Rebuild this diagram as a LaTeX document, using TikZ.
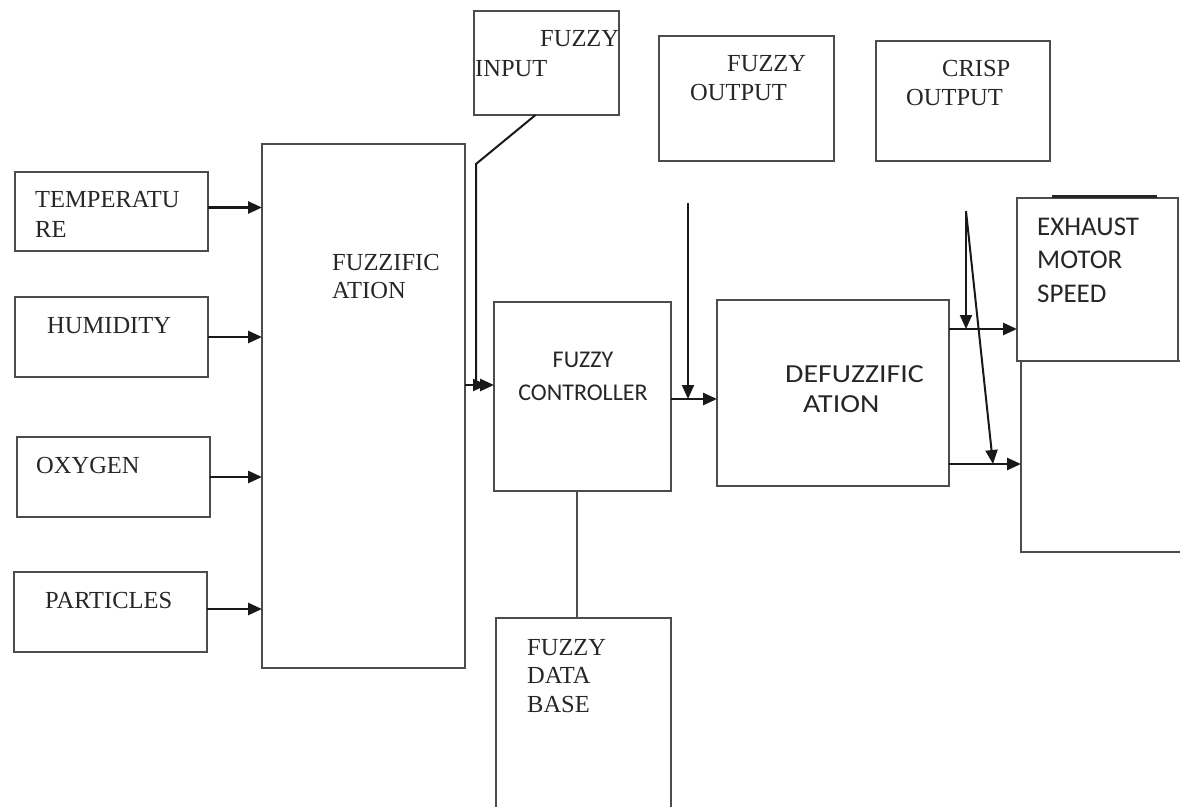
\documentclass[tikz,border=0pt]{standalone}
\usepackage{fontspec}
\setmainfont{Liberation Serif}
\newfontfamily\calib{Carlito}
\newfontfamily\calibw{Carlito}[FakeStretch=1.15]
\usetikzlibrary{arrows.meta}
\begin{document}
\begin{tikzpicture}[x=1pt,y=-1pt,
  box/.style={draw=black!70, line width=1.8pt, inner sep=0pt, outer sep=0pt, anchor=north west},
  arr/.style={draw=black!90, line width=2.6pt, -{Triangle[length=14pt,width=12pt]}},
  ln/.style={draw=black!70, line width=2pt},
  sr/.style={font=\fontsize{24.5}{30}\selectfont, text=black!85, anchor=base west, inner sep=0pt},
  ss/.style={font=\calib\fontsize{24}{30}\selectfont, text=black!85, anchor=base, inner sep=0pt},
  sx/.style={font=\calib\fontsize{27}{30}\selectfont, text=black!85, anchor=base west, inner sep=0pt},
  sw/.style={font=\calibw\fontsize{26}{30}\selectfont, text=black!85, anchor=base west, inner sep=0pt}]
\useasboundingbox (0,0) rectangle (1180,806);
\fill[white] (0,0) rectangle (1180,806);
\clip (0,0) rectangle (1180,806);

% boxes
\node[box, minimum width=193pt, minimum height=79pt] (temp) at (15,172) {};
\node[box, minimum width=193pt, minimum height=80pt] (hum) at (15,297) {};
\node[box, minimum width=193pt, minimum height=80pt] (oxy) at (17,437) {};
\node[box, minimum width=193pt, minimum height=80pt] (part) at (14,572) {};
\node[box, minimum width=203pt, minimum height=524pt] (fuzz) at (262,144) {};
\node[box, minimum width=145pt, minimum height=104pt] (fin) at (474,11) {};
\node[box, minimum width=175pt, minimum height=125pt] (fout) at (659,36) {};
\node[box, minimum width=174pt, minimum height=120pt] (crisp) at (876,41) {};
\node[box, minimum width=177pt, minimum height=189pt] (ctrl) at (494,302) {};
\node[box, minimum width=175pt, minimum height=200pt] (db) at (496,618) {};
\node[box, minimum width=232pt, minimum height=186pt] (defuzz) at (717,300) {};
\node[box, minimum width=161pt, minimum height=163pt] (exh) at (1017,198) {};
\node[box, minimum width=165pt, minimum height=191pt] (low) at (1021,361) {};
\draw[line width=3pt, black!85] (1052,196) -- (1157,196);

% texts
\node[sr] (t1a) at (35,207) {TEMPERATU};
\node[sr] (t1b) at (35,237) {RE};
\node[sr] (t2) at (47,333) {HUMIDITY};
\node[sr] (t3) at (36,473) {OXYGEN};
\node[sr] (t4) at (45,608) {PARTICLES};
\node[sr] (t5a) at (332,270) {FUZZIFIC};
\node[sr] (t5b) at (332,298) {ATION};
\node[sr] (t6a) at (540,46) {FUZZY};
\node[sr] (t6b) at (475,76) {INPUT};
\node[sr] (t7a) at (727,71) {FUZZY};
\node[sr] (t7b) at (690,100) {OUTPUT};
\node[sr] (t8a) at (942,76) {CRISP};
\node[sr] (t8b) at (906,105) {OUTPUT};
\node[sr] (t9a) at (527,655) {FUZZY};
\node[sr] (t9b) at (527,683) {DATA};
\node[sr] (t9c) at (527,712) {BASE};
\node[ss] (t10a) at (583,367) {FUZZY};
\node[ss] (t10b) at (583,400) {CONTROLLER};
\node[sw] (t11a) at (785,382) {DEFUZZIFIC};
\node[sw] (t11b) at (803,412) {ATION};
\node[sx] (t12a) at (1037,235) {EXHAUST};
\node[sx] (t12b) at (1037,268) {MOTOR};
\node[sx] (t12c) at (1037,302) {SPEED};

% connectors
\draw[arr] ([yshift=4pt]temp.east) -- ([yshift=4pt]fuzz.west |- temp.east);
\draw[arr] (hum.east) -- (fuzz.west |- hum.east);
\draw[arr] (oxy.east) -- (fuzz.west |- oxy.east);
\draw[arr] ([yshift=3pt]part.east) -- ([yshift=3pt]fuzz.west |- part.east);

\coordinate (k) at (476,164);
\coordinate (j) at (476,385);
\coordinate (j2) at (487,385);
\draw[arr] (fuzz.east |- j) -- (ctrl.west |- j);
\draw[arr, line width=2pt] ([xshift=-11pt]fin.south) -- (k) -- (j) -- (j2);

\coordinate (dbx) at (577,0);
\draw[ln] (ctrl.south -| dbx) -- (db.north -| dbx);

\coordinate (fo) at (688,203);
\coordinate (m) at (688,399);
\draw[arr] (ctrl.east |- m) -- (defuzz.west |- m);
\draw[arr, line width=2pt] (fo) -- (m);

\coordinate (cr) at (966,211);
\coordinate (u) at (966,329);
\coordinate (l) at (993,464);
\draw[arr] (defuzz.east |- u) -- (exh.west |- u);
\draw[arr] (defuzz.east |- l) -- (low.west |- l);
\draw[arr, line width=2pt] (cr) -- (u);
\draw[arr, line width=2pt] (cr) -- (l);
\end{tikzpicture}
\end{document}
